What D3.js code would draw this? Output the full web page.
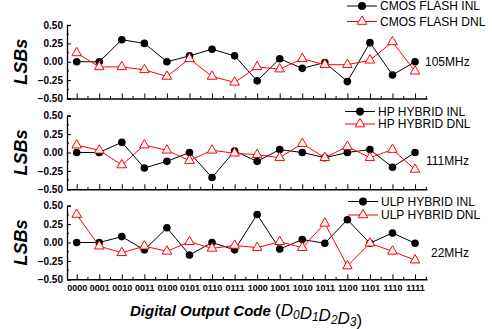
<!DOCTYPE html>
<html><head><meta charset="utf-8">
<script src="https://cdn.jsdelivr.net/npm/d3@7"></script>
<style>body{margin:0;background:#fff}svg{display:block}</style>
</head><body>
<svg id="c" width="492" height="329"></svg>
<script>
const codes = ["0000","0001","0010","0011","0100","0101","0110","0111","1000","1001","1010","1011","1100","1101","1110","1111"];
const yTicks = [0.5, 0.25, 0, -0.25, -0.5];
const cmosINL = [0.00,0.00,0.30,0.25,0.00,0.08,0.17,0.08,-0.26,0.04,-0.09,-0.01,-0.27,0.26,-0.18,0.00];
const cmosDNL = [0.12,-0.07,-0.07,-0.11,-0.20,0.04,-0.20,-0.28,-0.07,-0.10,0.04,-0.04,-0.04,0.02,0.27,-0.13];
const hpINL   = [0.00,0.00,0.14,-0.21,-0.12,0.00,-0.34,0.02,-0.12,0.04,0.00,-0.07,0.00,0.04,-0.20,0.00];
const hpDNL   = [0.10,0.03,-0.17,0.10,0.03,-0.11,0.03,-0.01,-0.03,-0.07,0.12,-0.07,0.08,-0.07,0.04,-0.23];
const ulpINL  = [0.00,0.00,0.08,-0.10,0.20,-0.17,0.00,-0.10,0.38,-0.09,0.04,-0.01,0.31,-0.01,0.13,-0.01];
const ulpDNL  = [0.38,-0.05,-0.14,-0.05,-0.12,0.01,-0.08,-0.04,-0.07,0.01,-0.07,0.26,-0.32,-0.01,-0.12,-0.24];
const panels = [
  {inl: cmosINL, dnl: cmosDNL, inlName: "CMOS FLASH INL", dnlName: "CMOS FLASH DNL", freq: "105MHz"},
  {inl: hpINL, dnl: hpDNL, inlName: "HP HYBRID INL", dnlName: "HP HYBRID DNL", freq: "111MHz"},
  {inl: ulpINL, dnl: ulpDNL, inlName: "ULP HYBRID INL", dnlName: "ULP HYBRID DNL", freq: "22MHz"}
];
const layout = [
  {top: 25, bottom: 98.5, legX: 347, legY: [6, 21.5], freqX: 425, freqY: 62},
  {top: 115.7, bottom: 189.3, legX: 345, legY: [111.5, 124], freqX: 426, freqY: 161},
  {top: 205.7, bottom: 279.3, legX: 348, legY: [201.5, 215], freqX: 431, freqY: 253}
];
const svg = d3.select("#c");
const font = "'Liberation Sans', Arial, sans-serif";
const x = d3.scaleLinear().domain([-0.43, 15.53]).range([67, 427]);
const tri = d3.symbol().type(d3.symbolTriangle).size(40);

panels.forEach((p, i) => {
  const L = layout[i];
  const y = d3.scaleLinear().domain([-0.5, 0.5]).range([L.bottom, L.top]);
  const g = svg.append("g");
  const ya = d3.axisLeft(y).tickValues(yTicks).tickSize(-4).tickPadding(4).tickFormat(d3.format(".2f"));
  const yg = g.append("g").attr("transform", `translate(67,0)`).call(ya);
  yg.select(".domain").attr("stroke", "#000").attr("stroke-width", 1.3);
  yg.selectAll("text").attr("font-family", font).attr("font-weight", "bold").attr("font-size", 10).attr("fill", "#000");
  const minorY = d3.range(-0.375, 0.5, 0.25);
  g.append("g").selectAll("line").data(minorY).join("line")
    .attr("x1", 67).attr("x2", 69).attr("y1", d => y(d)).attr("y2", d => y(d)).attr("stroke", "#000");
  const xa = d3.axisBottom(x).tickValues(d3.range(16)).tickSize(-5).tickFormat(i === 2 ? (d => codes[d]) : () => "").tickSizeOuter(0);
  const xg = g.append("g").attr("transform", `translate(0,${L.bottom})`).call(xa);
  xg.select(".domain").attr("stroke", "#000").attr("stroke-width", 1.6);
  xg.selectAll("text").attr("font-family", font).attr("font-weight", "bold").attr("font-size", 9).attr("fill", "#000").attr("dy", "0.95em");
  g.append("g").selectAll("line").data(d3.range(-0.5, 15.6, 1).filter(d => d > -0.43)).join("line")
    .attr("x1", d => x(d)).attr("x2", d => x(d)).attr("y1", L.bottom).attr("y2", L.bottom - 2.5).attr("stroke", "#000");
  g.append("text").attr("transform", `translate(27,${(L.top + L.bottom) / 2}) rotate(-90)`)
    .attr("text-anchor", "middle").attr("font-family", font).attr("font-weight", "bold").attr("font-style", "italic")
    .attr("font-size", 18).text("LSBs");
  const line = d3.line().x((d, j) => x(j)).y(d => y(d));
  g.append("path").attr("d", line(p.inl)).attr("fill", "none").attr("stroke", "#000").attr("stroke-width", 1);
  g.append("g").selectAll("circle").data(p.inl).join("circle")
    .attr("cx", (d, j) => x(j)).attr("cy", d => y(d)).attr("r", 3.8).attr("fill", "#000");
  g.append("path").attr("d", line(p.dnl)).attr("fill", "none").attr("stroke", "#ff0000").attr("stroke-width", 1);
  g.append("g").selectAll("path").data(p.dnl).join("path")
    .attr("d", tri).attr("transform", (d, j) => `translate(${x(j)},${y(d)})`)
    .attr("fill", "#fff").attr("stroke", "#ff0000").attr("stroke-width", 1);
  const lg = g.append("g");
  lg.append("line").attr("x1", L.legX).attr("x2", L.legX + 30).attr("y1", L.legY[0]).attr("y2", L.legY[0]).attr("stroke", "#000");
  lg.append("circle").attr("cx", L.legX + 15).attr("cy", L.legY[0]).attr("r", 4).attr("fill", "#000");
  lg.append("text").attr("x", L.legX + 33).attr("y", L.legY[0]).attr("dy", "0.35em").attr("font-family", font).attr("font-size", 12).text(p.inlName);
  lg.append("line").attr("x1", L.legX).attr("x2", L.legX + 30).attr("y1", L.legY[1]).attr("y2", L.legY[1]).attr("stroke", "#ff0000");
  lg.append("path").attr("d", tri).attr("transform", `translate(${L.legX + 15},${L.legY[1]})`).attr("fill", "#fff").attr("stroke", "#ff0000");
  lg.append("text").attr("x", L.legX + 33).attr("y", L.legY[1]).attr("dy", "0.35em").attr("font-family", font).attr("font-size", 12).text(p.dnlName);
  g.append("text").attr("x", L.freqX).attr("y", L.freqY).attr("dy", "0.35em").attr("font-family", font).attr("font-size", 12).text(p.freq);
});

const t = svg.append("text").attr("x", 130).attr("y", 316).attr("font-family", font).attr("font-weight", "bold").attr("font-style", "italic").attr("font-size", 15);
t.append("tspan").text("Digital Output Code ");
t.append("tspan").attr("font-weight", "normal").attr("font-style", "normal").attr("font-size", 17).text("(");
["0","1","2","3"].forEach(s => {
  t.append("tspan").attr("font-size", 17).attr("font-weight", "normal").text("D");
  t.append("tspan").attr("font-size", 12).attr("font-weight", "normal").attr("dy", 2.5).text(s);
  t.append("tspan").attr("font-size", 12).attr("dy", -2.5).text("");
});
t.append("tspan").attr("font-weight", "normal").attr("font-style", "normal").attr("font-size", 17).text(")");
</script>
</body></html>
